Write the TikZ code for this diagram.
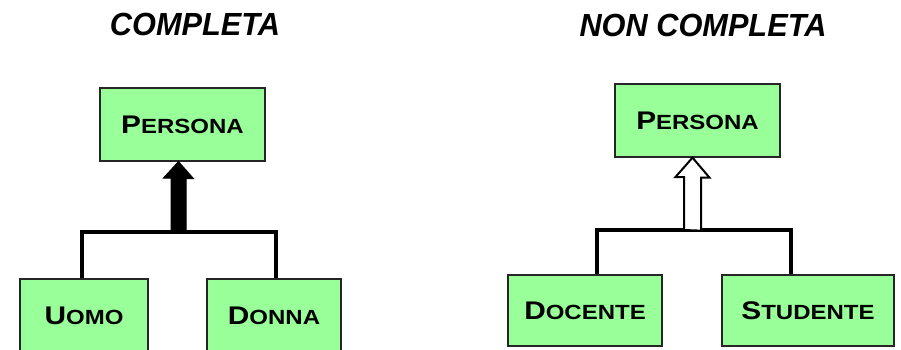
\documentclass[tikz,border=0pt]{standalone}
\usepackage{fontspec}
\setmainfont{Liberation Sans}
\usetikzlibrary{calc}
\definecolor{boxgreen}{RGB}{153,255,153}
\newcommand{\scap}[2]{\scalebox{1.17}[1]{\fontsize{25.5}{25.5}\selectfont #1\fontsize{20.5}{20.5}\selectfont #2}}
\tikzset{
  cls/.style={draw=black!85, line width=1.3pt, fill=boxgreen, inner sep=0pt, font=\bfseries},
  ttl/.style={font=\fontsize{32}{32}\selectfont\bfseries\itshape, inner sep=0pt, xscale=0.96},
  conn/.style={draw=black, line width=3.2pt, line cap=butt, line join=miter},
}
\begin{document}
\begin{tikzpicture}[x=1pt,y=1pt]
\useasboundingbox (0,0) rectangle (901,349);
% titles
\node[ttl] (t1) at (195,324.5) {COMPLETA};
\node[ttl] (t2) at (703,324) {NON COMPLETA};
% left diagram
\node[cls, minimum width=165, minimum height=73] (persL) at (182.5,224.5) {\scap{P}{ERSONA}};
\node[cls, minimum width=128, minimum height=73] (uomo) at (84,33.5) {\scap{U}{OMO}};
\node[cls, minimum width=134, minimum height=73] (donna) at (274,33.5) {\scap{D}{ONNA}};
\coordinate (jL) at (178.5,117);
\filldraw[line width=1pt, line join=miter] (jL) ++(-7.5,0) -- ++(0,54) -- ++(-7.5,0) -- (persL.south -| jL) -- ++(15,-17) -- ++(-7.5,0) -- ++(0,-54) -- cycle;
\draw[conn] ([xshift=-2pt]uomo.north) |- (jL) -| ([xshift=2pt]donna.north);
% right diagram
\node[cls, minimum width=165, minimum height=73] (persR) at (697.5,228.5) {\scap{P}{ERSONA}};
\node[cls, minimum width=154, minimum height=71] (docente) at (585,38.5) {\scap{D}{OCENTE}};
\node[cls, minimum width=172, minimum height=71] (studente) at (808,38.5) {\scap{S}{TUDENTE}};
\coordinate (jR) at (692.5,119);
\draw[conn] ([xshift=12pt]docente.north) |- (jR) -| ([xshift=-17pt]studente.north);
\filldraw[draw=black, fill=white, line width=2pt, line join=miter] (jR) ++(-8.5,0) -- ++(0,53) -- ++(-8.5,0) -- (persR.south -| jR) -- ++(17,-20) -- ++(-8.5,0) -- ++(0,-53) -- cycle;
\end{tikzpicture}
\end{document}
